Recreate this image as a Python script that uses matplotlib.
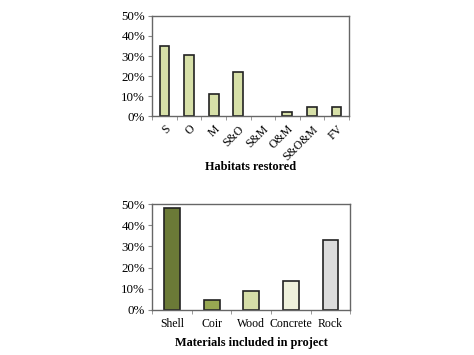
import matplotlib
matplotlib.use("Agg")
import matplotlib.pyplot as plt
import numpy as np
from matplotlib.ticker import FuncFormatter

# habitats restored (percent of projects)
habitats = ["S", "O", "M", "S&O", "S&M", "O&M", "S&O&M", "FV"]
habitat_pct = [35, 30.5, 11, 22, 0, 2, 4.5, 4.5]

# materials included in project
materials = ["Shell", "Coir", "Wood", "Concrete", "Rock"]
material_pct = [48, 4.5, 9, 13.5, 33]
material_colors = ["#6b7a37", "#98a852", "#d6dea8", "#eff1dc", "#dcdcdc"]

plt.rcParams["font.family"] = ["Liberation Serif", "DejaVu Serif"]
plt.rcParams["font.size"] = 9

fig = plt.figure(figsize=(4.74, 3.55), dpi=100)
ax1 = fig.add_axes([0.321, 0.673, 0.415, 0.282])
ax2 = fig.add_axes([0.321, 0.127, 0.418, 0.298])

pct = FuncFormatter(lambda v, p: f"{v:.0f}%")


def style(ax, n):
    ax.set_ylim(0, 50)
    ax.set_xlim(-0.5, n - 0.5)
    ax.set_yticks(range(0, 51, 10))
    ax.yaxis.set_major_formatter(pct)
    ax.set_xticks(np.arange(n))
    ax.set_xticks(np.arange(n + 1) - 0.5, minor=True)
    ax.tick_params(axis="x", which="major", length=0, labelsize=8.5)
    ax.tick_params(axis="x", which="minor", length=3, color="#888888", direction="out")
    ax.tick_params(axis="y", length=3, color="#888888", direction="out", pad=2, labelsize=9.3)
    for s in ax.spines.values():
        s.set_color("#666666")
        s.set_linewidth(1.0)


x1 = np.arange(len(habitats))
lw1 = [1.2 if v > 0 else 0 for v in habitat_pct]
ax1.bar(x1, habitat_pct, width=0.4, color="#d7e0a8", edgecolor="#222222", linewidth=lw1)
style(ax1, len(habitats))
ax1.set_xticklabels(habitats, rotation=45, ha="right", rotation_mode="anchor")
ax1.tick_params(axis="x", which="major", pad=5)
ax1.set_xlabel("Habitats restored", fontweight="bold", fontsize=8.8, labelpad=-1)

x2 = np.arange(len(materials))
ax2.bar(x2, material_pct, width=0.4, color=material_colors, edgecolor="#222222", linewidth=1.2)
style(ax2, len(materials))
ax2.set_xticklabels(materials)
ax2.tick_params(axis="x", which="major", pad=6)
ax2.set_xlabel("Materials included in project", fontweight="bold", fontsize=8.8, labelpad=5)

fig.savefig("out.png", dpi=100)
